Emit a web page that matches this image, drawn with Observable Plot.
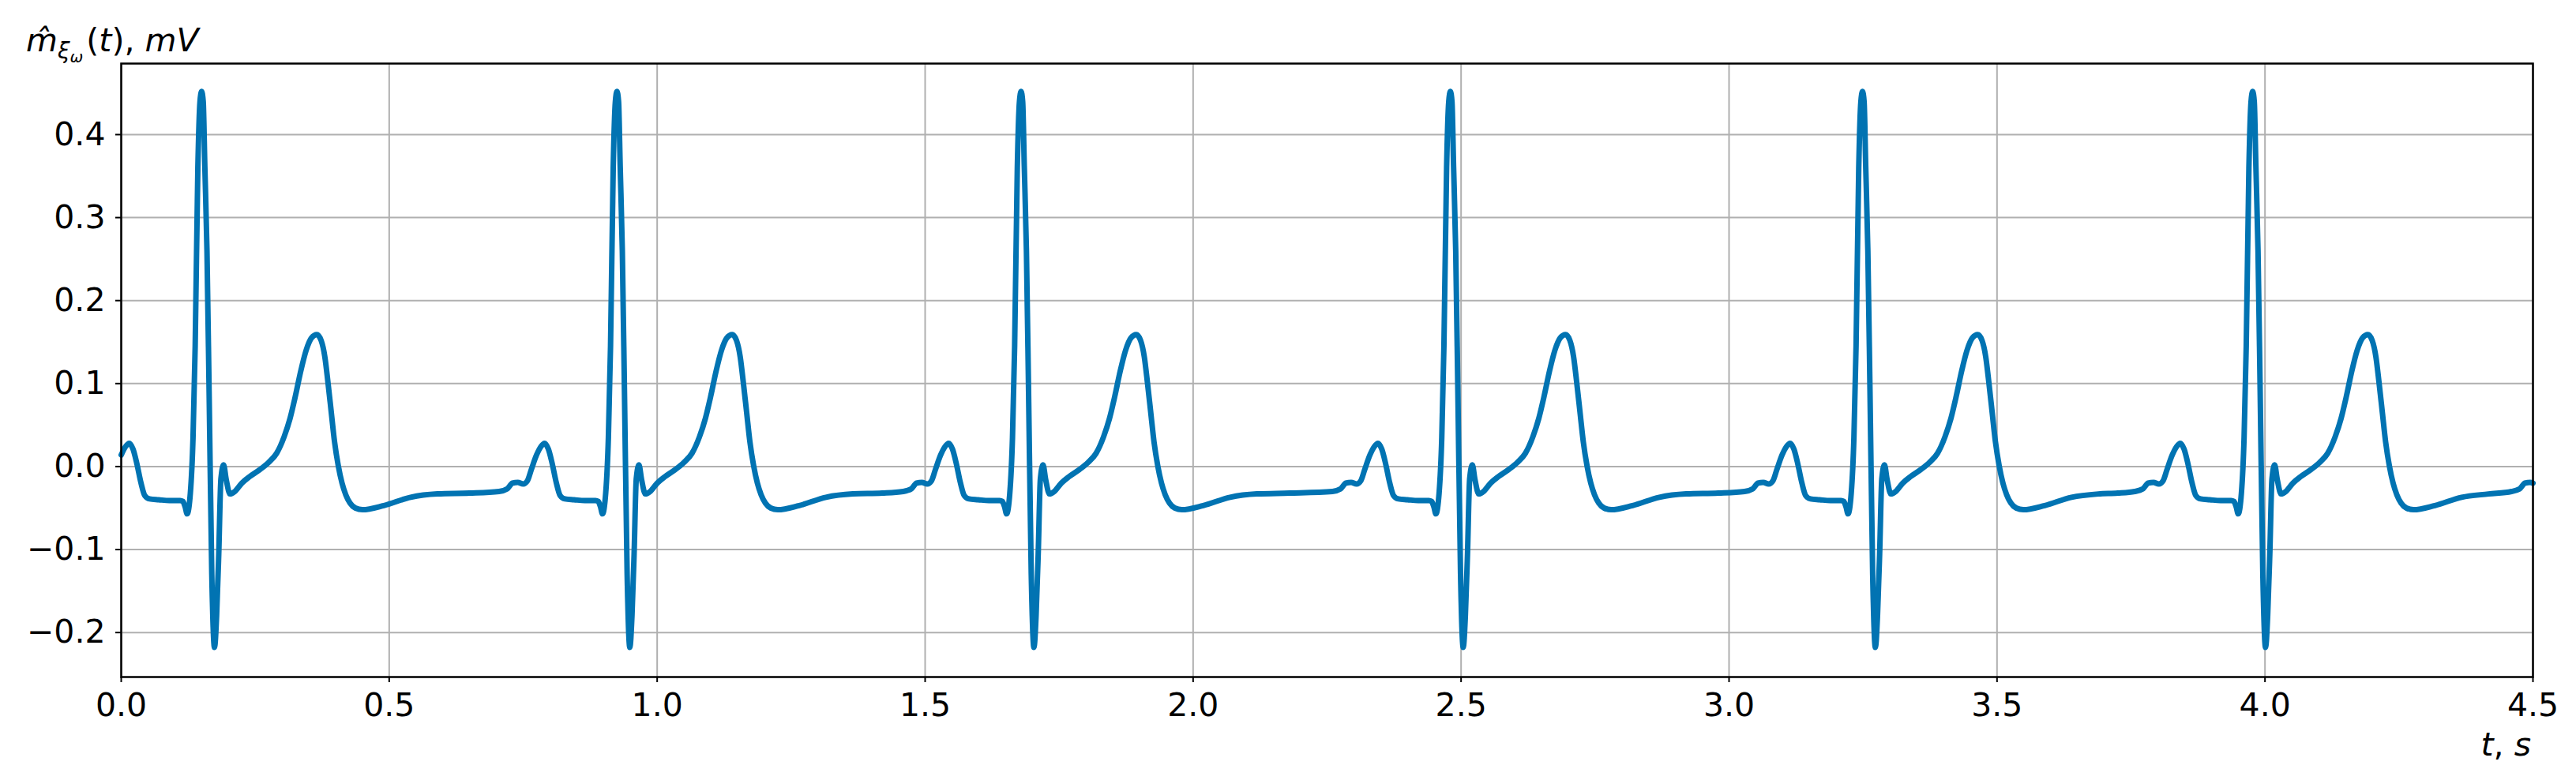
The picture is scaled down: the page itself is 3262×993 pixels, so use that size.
<!DOCTYPE html>
<html>
<head>
<meta charset="utf-8">
<script src="https://cdn.jsdelivr.net/npm/d3@7"></script>
<script src="https://cdn.jsdelivr.net/npm/@observablehq/plot@0.6"></script>
<style>
  html, body { margin: 0; padding: 0; background: white; }
  svg { display: block; }
</style>
</head>
<body>
<div id="chart"></div>
<script>
// Tick values
const xTicks = [0, 0.5, 1.0, 1.5, 2.0, 2.5, 3.0, 3.5, 4.0, 4.5];
const yTicks = [-0.2, -0.1, 0.0, 0.1, 0.2, 0.3, 0.4];

// Signal: [t (s), value (mV)]
const beat1 = [
  [0.000,0.014],[0.008,0.024],[0.015,0.028],[0.022,0.021],[0.029,0.004],[0.037,-0.020],[0.044,-0.035],
  [0.053,-0.039],[0.070,-0.040],[0.090,-0.041],[0.110,-0.041],[0.115,-0.042],[0.119,-0.048],
  [0.123,-0.057],[0.129,-0.032],[0.134,0.035],[0.138,0.145],[0.143,0.360],[0.147,0.440],[0.150,0.452],
  [0.153,0.440],[0.156,0.362],[0.160,0.260],[0.164,0.090],[0.169,-0.130],[0.174,-0.218],[0.178,-0.180],
  [0.182,-0.105],[0.186,-0.015],[0.191,0.002],[0.196,-0.016],[0.203,-0.033],
  [0.212,-0.030],[0.225,-0.020],[0.240,-0.012],[0.258,-0.004],[0.275,0.005],[0.290,0.016],[0.304,0.036],
  [0.315,0.058],[0.325,0.085],[0.335,0.115],[0.345,0.140],[0.355,0.155],[0.365,0.159],[0.373,0.152],
  [0.380,0.132],[0.386,0.100],[0.392,0.065],[0.398,0.030],[0.405,0.001],[0.412,-0.020],[0.419,-0.034],
  [0.427,-0.044],[0.437,-0.050],[0.450,-0.052],[0.490,-0.047],[0.540,-0.037],[0.590,-0.033],[0.650,-0.032]
];
const beat2 = [
  [0.705,-0.030],[0.720,-0.027],[0.730,-0.020],[0.740,-0.019],[0.750,-0.021],[0.758,-0.017],[0.765,-0.004],
  [0.775,0.014],[0.783,0.024],[0.790,0.028],[0.797,0.021],[0.804,0.004],[0.812,-0.020],[0.819,-0.035],
  [0.828,-0.039],[0.845,-0.040],[0.865,-0.041],[0.885,-0.041],[0.890,-0.042],[0.894,-0.048],
  [0.898,-0.057],[0.904,-0.032],[0.909,0.035],[0.913,0.145],[0.918,0.360],[0.922,0.440],[0.925,0.452],
  [0.928,0.440],[0.931,0.362],[0.935,0.260],[0.939,0.090],[0.944,-0.130],[0.949,-0.218],[0.953,-0.180],
  [0.957,-0.105],[0.961,-0.015],[0.966,0.002],[0.971,-0.016],[0.978,-0.033],
  [0.987,-0.030],[1.000,-0.020],[1.015,-0.012],[1.033,-0.004],[1.050,0.005],[1.065,0.016],[1.079,0.036],
  [1.090,0.058],[1.100,0.085],[1.110,0.115],[1.120,0.140],[1.130,0.155],[1.140,0.159],[1.148,0.152],
  [1.155,0.132],[1.161,0.100],[1.167,0.065],[1.173,0.030],[1.180,0.001],[1.187,-0.020],[1.194,-0.034],
  [1.202,-0.044],[1.212,-0.050],[1.225,-0.052],[1.265,-0.047],[1.315,-0.037],[1.365,-0.033],[1.420,-0.032]
];
const beat3 = [
  [1.459,-0.030],[1.474,-0.027],[1.484,-0.020],[1.494,-0.019],[1.504,-0.021],[1.512,-0.017],[1.519,-0.004],
  [1.529,0.014],[1.537,0.024],[1.544,0.028],[1.551,0.021],[1.558,0.004],[1.566,-0.020],[1.573,-0.035],
  [1.582,-0.039],[1.599,-0.040],[1.619,-0.041],[1.639,-0.041],[1.644,-0.042],[1.648,-0.048],
  [1.652,-0.057],[1.658,-0.032],[1.663,0.035],[1.667,0.145],[1.672,0.360],[1.676,0.440],[1.679,0.452],
  [1.682,0.440],[1.685,0.362],[1.689,0.260],[1.693,0.090],[1.698,-0.130],[1.703,-0.218],[1.707,-0.180],
  [1.711,-0.105],[1.715,-0.015],[1.720,0.002],[1.725,-0.016],[1.732,-0.033],
  [1.741,-0.030],[1.754,-0.020],[1.769,-0.012],[1.787,-0.004],[1.804,0.005],[1.819,0.016],[1.833,0.036],
  [1.844,0.058],[1.854,0.085],[1.864,0.115],[1.874,0.140],[1.884,0.155],[1.894,0.159],[1.902,0.152],
  [1.909,0.132],[1.915,0.100],[1.921,0.065],[1.927,0.030],[1.934,0.001],[1.941,-0.020],[1.948,-0.034],
  [1.956,-0.044],[1.966,-0.050],[1.979,-0.052],[2.019,-0.047],[2.069,-0.037],[2.119,-0.033],[2.180,-0.032]
];
const beat4 = [
  [2.260,-0.030],[2.275,-0.027],[2.285,-0.020],[2.295,-0.019],[2.305,-0.021],[2.313,-0.017],[2.320,-0.004],
  [2.330,0.014],[2.338,0.024],[2.345,0.028],[2.352,0.021],[2.359,0.004],[2.367,-0.020],[2.374,-0.035],
  [2.383,-0.039],[2.400,-0.040],[2.420,-0.041],[2.440,-0.041],[2.445,-0.042],[2.449,-0.048],
  [2.453,-0.057],[2.459,-0.032],[2.464,0.035],[2.468,0.145],[2.473,0.360],[2.477,0.440],[2.480,0.452],
  [2.483,0.440],[2.486,0.362],[2.490,0.260],[2.494,0.090],[2.499,-0.130],[2.504,-0.218],[2.508,-0.180],
  [2.512,-0.105],[2.516,-0.015],[2.521,0.002],[2.526,-0.016],[2.533,-0.033],
  [2.542,-0.030],[2.555,-0.020],[2.570,-0.012],[2.588,-0.004],[2.605,0.005],[2.620,0.016],[2.634,0.036],
  [2.645,0.058],[2.655,0.085],[2.665,0.115],[2.675,0.140],[2.685,0.155],[2.695,0.159],[2.703,0.152],
  [2.710,0.132],[2.716,0.100],[2.722,0.065],[2.728,0.030],[2.735,0.001],[2.742,-0.020],[2.749,-0.034],
  [2.757,-0.044],[2.767,-0.050],[2.780,-0.052],[2.820,-0.047],[2.870,-0.037],[2.920,-0.033],[2.980,-0.032]
];
const beat5 = [
  [3.029,-0.030],[3.044,-0.027],[3.054,-0.020],[3.064,-0.019],[3.074,-0.021],[3.082,-0.017],[3.089,-0.004],
  [3.099,0.014],[3.107,0.024],[3.114,0.028],[3.121,0.021],[3.128,0.004],[3.136,-0.020],[3.143,-0.035],
  [3.152,-0.039],[3.169,-0.040],[3.189,-0.041],[3.209,-0.041],[3.214,-0.042],[3.218,-0.048],
  [3.222,-0.057],[3.228,-0.032],[3.233,0.035],[3.237,0.145],[3.242,0.360],[3.246,0.440],[3.249,0.452],
  [3.252,0.440],[3.255,0.362],[3.259,0.260],[3.263,0.090],[3.268,-0.130],[3.273,-0.218],[3.277,-0.180],
  [3.281,-0.105],[3.285,-0.015],[3.290,0.002],[3.295,-0.016],[3.302,-0.033],
  [3.311,-0.030],[3.324,-0.020],[3.339,-0.012],[3.357,-0.004],[3.374,0.005],[3.389,0.016],[3.403,0.036],
  [3.414,0.058],[3.424,0.085],[3.434,0.115],[3.444,0.140],[3.454,0.155],[3.464,0.159],[3.472,0.152],
  [3.479,0.132],[3.485,0.100],[3.491,0.065],[3.497,0.030],[3.504,0.001],[3.511,-0.020],[3.518,-0.034],
  [3.526,-0.044],[3.536,-0.050],[3.549,-0.052],[3.589,-0.047],[3.639,-0.037],[3.689,-0.033],[3.725,-0.032]
];
const beat6 = [
  [3.757,-0.030],[3.772,-0.027],[3.782,-0.020],[3.792,-0.019],[3.802,-0.021],[3.810,-0.017],[3.817,-0.004],
  [3.827,0.014],[3.835,0.024],[3.842,0.028],[3.849,0.021],[3.856,0.004],[3.864,-0.020],[3.871,-0.035],
  [3.880,-0.039],[3.897,-0.040],[3.917,-0.041],[3.937,-0.041],[3.942,-0.042],[3.946,-0.048],
  [3.950,-0.057],[3.956,-0.032],[3.961,0.035],[3.965,0.145],[3.970,0.360],[3.974,0.440],[3.977,0.452],
  [3.980,0.440],[3.983,0.362],[3.987,0.260],[3.991,0.090],[3.996,-0.130],[4.001,-0.218],[4.005,-0.180],
  [4.009,-0.105],[4.013,-0.015],[4.018,0.002],[4.023,-0.016],[4.030,-0.033],
  [4.039,-0.030],[4.052,-0.020],[4.067,-0.012],[4.085,-0.004],[4.102,0.005],[4.117,0.016],[4.131,0.036],
  [4.142,0.058],[4.152,0.085],[4.162,0.115],[4.172,0.140],[4.182,0.155],[4.192,0.159],[4.200,0.152],
  [4.207,0.132],[4.213,0.100],[4.219,0.065],[4.225,0.030],[4.232,0.001],[4.239,-0.020],[4.246,-0.034],
  [4.254,-0.044],[4.264,-0.050],[4.277,-0.052],[4.317,-0.047],[4.367,-0.037],[4.417,-0.033],
  [4.460,-0.030],[4.475,-0.027],[4.485,-0.020],[4.495,-0.019],[4.500,-0.020]
];

const data = [...beat1, ...beat2, ...beat3, ...beat4, ...beat5, ...beat6].map(([t, v]) => ({t, v}));

const fontFamily = "'DejaVu Sans', sans-serif";

const svg = Plot.plot({
  width: 3262,
  height: 993,
  marginLeft: 153,
  marginRight: 55,
  marginTop: 80,
  marginBottom: 136,
  style: {fontFamily, fontSize: "41px", background: "white", color: "black"},
  x: {domain: [0, 4.5]},
  y: {domain: [-0.2536, 0.4856]},
  marks: [
    Plot.gridX(xTicks, {stroke: "#b0b0b0", strokeOpacity: 1, strokeWidth: 2}),
    Plot.gridY(yTicks, {stroke: "#b0b0b0", strokeOpacity: 1, strokeWidth: 2}),
    Plot.line(data, {x: "t", y: "v", stroke: "#0173b2", strokeWidth: 7, curve: "monotone-x", strokeLinejoin: "round"}),
    Plot.frame({stroke: "black", strokeWidth: 2.5}),
    Plot.axisX(xTicks, {tickFormat: d3.format(".1f"), tickSize: 7, tickPadding: 13, strokeWidth: 2, fontSize: 41, label: null}),
    Plot.axisY(yTicks, {tickFormat: d3.format(".1f"), tickSize: 7, tickPadding: 13, strokeWidth: 2, fontSize: 41, label: null})
  ]
});

// Axis labels with math-style formatting
const s = d3.select(svg);
const yl = s.append("text")
  .attr("x", 33).attr("y", 65).attr("text-anchor", "start")
  .attr("font-family", fontFamily).attr("font-size", 41).attr("fill", "black");
yl.append("tspan").attr("font-style", "italic").text("m\u0302");
yl.append("tspan").attr("font-style", "italic").attr("font-size", 28).attr("dy", 9).text("ξ");
yl.append("tspan").attr("font-style", "italic").attr("font-size", 20).attr("dy", 5).text("ω");
yl.append("tspan").attr("dy", -14).attr("dx", 4).text("(");
yl.append("tspan").attr("font-style", "italic").text("t");
yl.append("tspan").text("), ");
yl.append("tspan").attr("font-style", "italic").text("mV");

const xl = s.append("text")
  .attr("x", 3205).attr("y", 957).attr("text-anchor", "end")
  .attr("font-family", fontFamily).attr("font-size", 41).attr("fill", "black");
xl.append("tspan").attr("font-style", "italic").text("t");
xl.append("tspan").text(", ");
xl.append("tspan").attr("font-style", "italic").text("s");

document.getElementById("chart").appendChild(svg);
</script>
</body>
</html>
